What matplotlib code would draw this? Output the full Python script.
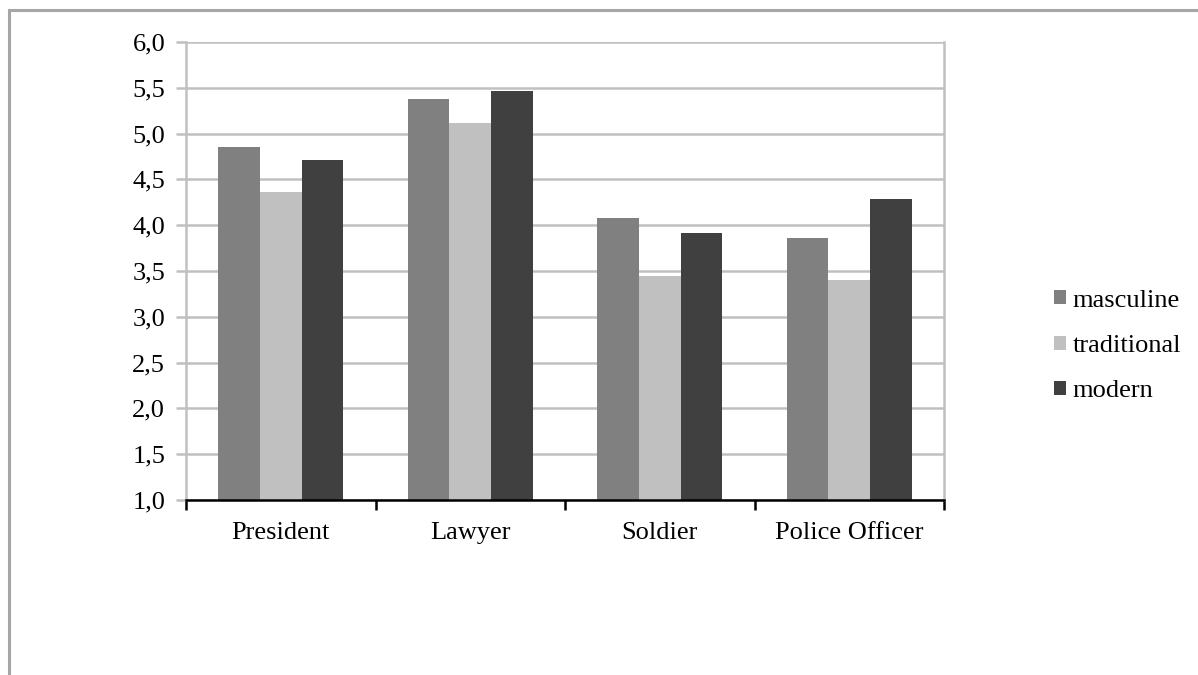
import matplotlib.pyplot as plt
import numpy as np
from matplotlib.ticker import FuncFormatter
from matplotlib.patches import Rectangle

plt.rcParams['font.family'] = ['Liberation Serif', 'DejaVu Serif']

# datos
categorias = ["President", "Lawyer", "Soldier", "Police Officer"]
series = ["masculine", "traditional", "modern"]
masculine = [4.85, 5.38, 4.08, 3.86]
traditional = [4.36, 5.12, 3.45, 3.40]
modern = [4.71, 5.46, 3.92, 4.29]
colores = ["#808080", "#c0c0c0", "#404040"]

fig = plt.figure(figsize=(11.98, 6.75), dpi=100)
# marco exterior
fig.patches.append(Rectangle((9 / 1198, -0.1), 1.2, (675 - 10) / 675 + 0.1,
                             transform=fig.transFigure, fill=False,
                             edgecolor="#a6a6a6", linewidth=2.2))

ax = fig.add_axes([186 / 1198, 1 - 500 / 675, (944 - 186) / 1198, (500 - 42) / 675])

x = np.arange(len(categorias))
ancho = 0.22
for i, (vals, nombre) in enumerate(zip([masculine, traditional, modern], series)):
    ax.bar(x + (i - 1) * ancho, np.array(vals) - 1.0, ancho, bottom=1.0,
           color=colores[i], label=nombre, zorder=3)

ax.set_xlim(-0.5, len(categorias) - 0.5)
ax.set_ylim(1.0, 6.0)
ax.set_yticks(np.arange(1.0, 6.01, 0.5))
ax.yaxis.set_major_formatter(FuncFormatter(lambda v, p: f"{v:.1f}".replace(".", ",")))
ax.grid(axis="y", color="#c0c0c0", linewidth=1.8, zorder=0)

ax.set_xticks(x)
ax.set_xticklabels(categorias)
ax.set_xticks(np.arange(-0.5, len(categorias)), minor=True)
ax.tick_params(axis="x", which="major", length=0, pad=16, labelsize=19)
ax.tick_params(axis="x", which="minor", length=7, width=1.8, direction="out", color="black")
ax.tick_params(axis="y", length=7, width=1.8, color="#c0c0c0", pad=8, labelsize=19)

for lado in ["left", "right", "top"]:
    ax.spines[lado].set_color("#c0c0c0")
    ax.spines[lado].set_linewidth(1.8)
ax.spines["top"].set_visible(False)
ax.spines["bottom"].set_color("black")
ax.spines["bottom"].set_linewidth(1.8)
ax.spines["bottom"].set_zorder(4)

ax.legend(loc="center left", bbox_to_anchor=((1054 - 186) / 758, 1 - (346 - 42) / 458),
          frameon=False, fontsize=19, handlelength=0.45, handleheight=0.45,
          handletextpad=0.25, labelspacing=0.88, borderpad=0, borderaxespad=0)

plt.savefig("out.png", dpi=100)
